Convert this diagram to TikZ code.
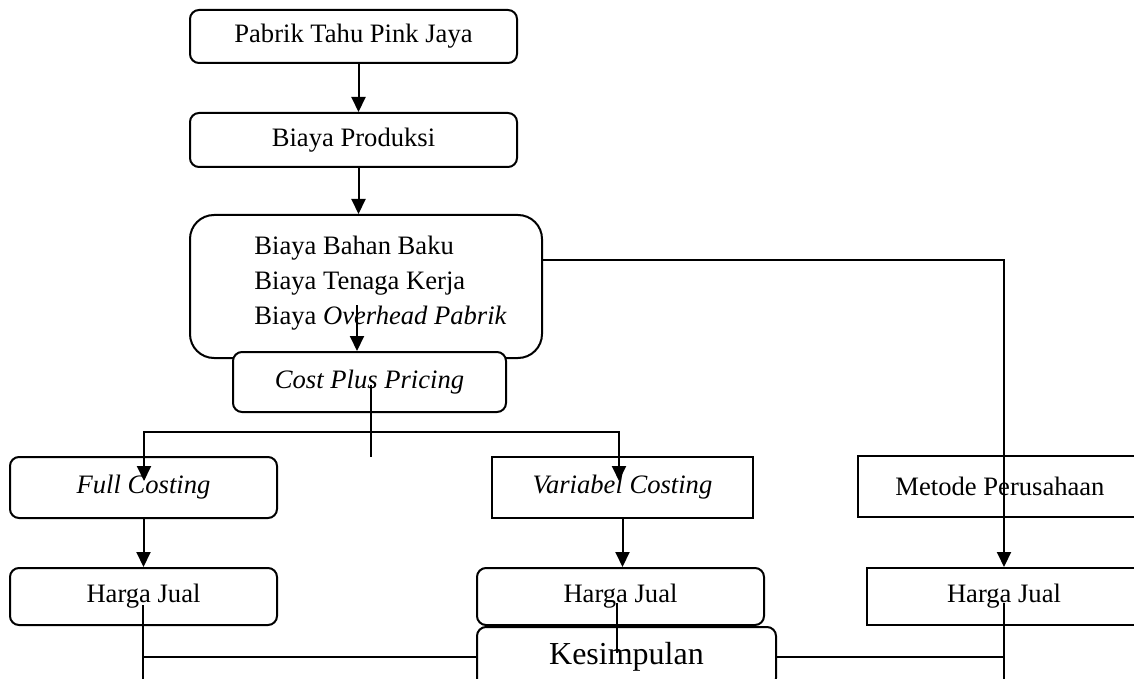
\documentclass[tikz,border=0pt]{standalone}
\usepackage{fontspec}
\setmainfont{Liberation Serif}
\usetikzlibrary{arrows.meta,positioning}

\tikzset{
  >={Triangle[length=7.5pt,width=7pt]},
  boxr/.style={draw,line width=1pt,fill=white,rounded corners=4.5pt,inner sep=0pt,align=center},
  boxs/.style={draw,line width=1pt,fill=white,inner sep=0pt,align=center},
}

\begin{document}
\begin{tikzpicture}[x=0.5pt, y=-0.5pt, font=\fontsize{13.3}{17.5}\selectfont]
		\clip (0,0) rectangle (1134,679);
		\begin{scope}
			\node[boxr, minimum width=163.5pt, minimum height=26.5pt] (pabrik) at (353.5,36.5) {Pabrik Tahu Pink Jaya};
			\node[boxr, minimum width=163.5pt, minimum height=27pt] (produksi) at (353.5,140) {Biaya Produksi};
			\node[boxr, rounded corners=12pt, minimum width=176pt, minimum height=71.5pt] (biaya) at (366,286.5) {};
			\node[align=left, anchor=west, inner sep=0pt] (biayatxt) at (254,283) {Biaya Bahan Baku\\Biaya Tenaga Kerja\\Biaya \textit{Overhead Pabrik}};
			\node[boxr, minimum width=136.5pt, minimum height=30pt] (cpp) at (369.5,382) {\textit{Cost Plus Pricing}};
			\node[boxr, minimum width=133.5pt, minimum height=30.5pt] (full) at (143.5,487.5) {\textit{Full Costing}};
			\node[boxs, minimum width=130.5pt, minimum height=30.5pt] (var) at (622.5,487.5) {\textit{Variabel Costing}};
			\node[boxs, minimum width=142pt, minimum height=30.5pt] (metode) at (1000,486) {Metode Perusahaan};
			\node[boxr, minimum width=133.5pt, minimum height=28.5pt] (hjl) at (143.5,596.5) {Harga Jual};
			\node[boxr, minimum width=143.5pt, minimum height=28.5pt] (hjm) at (620.5,596.5) {Harga Jual};
			\node[boxs, minimum width=137pt, minimum height=28.5pt] (hjr) at (1004,596.5) {Harga Jual};
			\node[boxr, minimum width=149.5pt, minimum height=30pt, font=\fontsize{16}{19}\selectfont] (kes) at (626.5,657) {Kesimpulan};
		\end{scope}
		% free ends of the lines
		\coordinate (c1) at (357,305);
		\coordinate (c2) at (371,385);
		\coordinate (c3) at (371,457);
		\coordinate (sl) at (144,432);
		\coordinate (sr) at (619,432);
		\coordinate (fl) at (144,481);
		\coordinate (fr) at (619,481);
		\coordinate (r1) at (542,260);
		\coordinate (b1) at (143,605);
		\coordinate (b2) at (143,690);
		\coordinate (m1) at (617,603);
		\coordinate (m2) at (617,653);
		\coordinate (b3) at (1004,603);
		\coordinate (b4) at (1004,690);
		\begin{scope}[every path/.style={line width=1pt}]
			\draw[->] ([xshift=2.5pt]pabrik.south) -- ([xshift=2.5pt]produksi.north);
			\draw[->] ([xshift=2.5pt]produksi.south) -- ([xshift=2.5pt]produksi.south |- biaya.north);
			\draw[->] (c1) -- (c1 |- cpp.north);
			\draw (c2) -- (c3);
			\draw[<->] (fl) -- (sl) -- (sr) -- (fr);
			\draw[->] (full) -- (hjl);
			\draw[->] (var.south) -- (var.south |- hjm.north);
			\draw[->] (r1) -| (hjr.north);
			\draw (b1) -- (b2);
			\draw (b1 |- kes.west) -- (kes.west);
			\draw (m1) -- (m2);
			\draw (b3) -- (b4);
			\draw (kes.east) -- (kes.east -| b3);
		\end{scope}
\end{tikzpicture}
\end{document}
